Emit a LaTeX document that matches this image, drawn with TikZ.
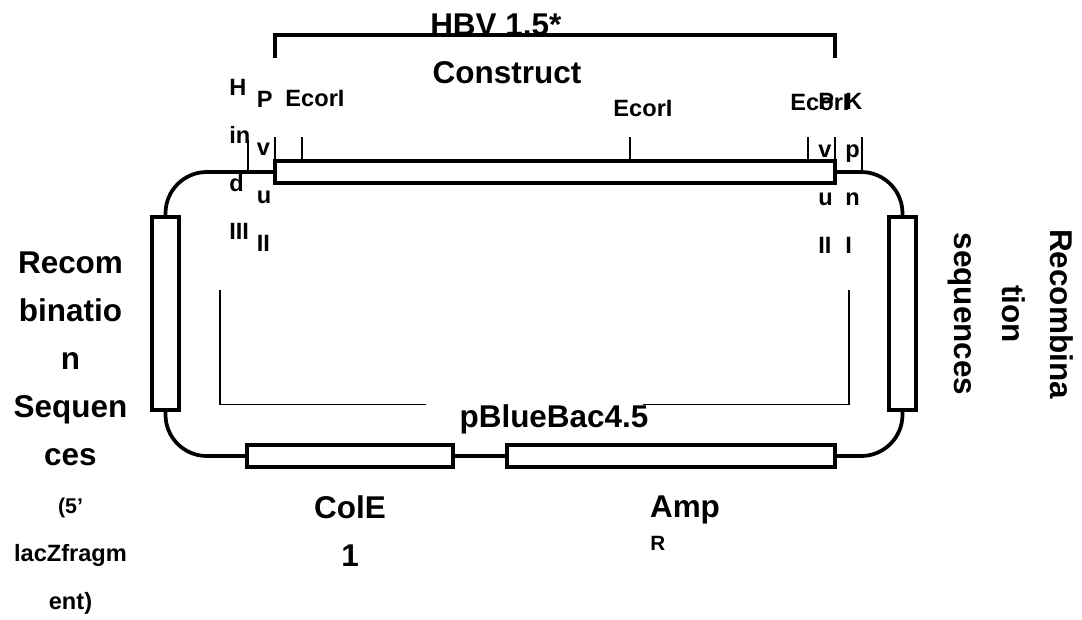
\documentclass[tikz,border=0pt]{standalone}
\usepackage{fontspec}
\setmainfont{Liberation Sans}
\usepackage{tikz}
\usetikzlibrary{positioning}

\begin{document}
\begin{tikzpicture}[
    x=0.75pt, y=-0.75pt,
    segbox/.style={rectangle, draw, line width=3pt, fill=white, inner sep=0pt},
    backbone/.style={line width=2.8pt, rounded corners=31pt},
    cutline/.style={line width=0.9pt},
    biglbl/.style={font=\fontsize{23.6}{36}\selectfont\bfseries, align=center, inner sep=0pt},
    sitelbl/.style={font=\fontsize{17.7}{36}\selectfont\bfseries, align=left, inner sep=0pt, anchor=west}
]
\useasboundingbox (0,0) rectangle (1082,619);

\begin{scope}
\clip (400,13) rectangle (600,36);
\node[biglbl, anchor=base west] (hbvlbl) at (430,35) {HBV 1.5*};
\end{scope}
\node[biglbl] (construct) at (507,73) {Construct};
\draw[line width=2.8pt] (275,58) |- (835,35) -- (835,58);

% boxes
\node[segbox, minimum width=420pt, minimum height=16.5pt] (hbvbox) at (555,172) {};
\node[segbox, minimum width=20pt, minimum height=145pt] (leftbox) at (165.5,313.5) {};
\node[segbox, minimum width=20pt, minimum height=145pt] (rightbox) at (902.5,313.5) {};
\node[segbox, minimum width=154.5pt, minimum height=16.5pt] (colbox) at (350,456) {};
\node[segbox, minimum width=246pt, minimum height=16.5pt] (ampbox) at (671,456) {};

\draw[backbone] (leftbox.north) |- (hbvbox.west);
\draw[backbone] (hbvbox.east) -| (rightbox.north);
\draw[backbone] (leftbox.south) |- (colbox.west);
\draw[backbone] (colbox.east) -- (ampbox.west);
\draw[backbone] (ampbox.east) -| (rightbox.south);

% restriction sites
\draw[cutline] (248,172) -- (248,140);
\foreach \x in {275,302,630,808,835}
    \draw[cutline] (\x,161) -- (\x,137);
\draw[cutline] (862,172) -- (862,137);

\draw[cutline] (220,290) |- (426,404.5);
\draw[cutline] (849,290) |- (643,404.5);

\node[sitelbl] (hind) at (229,159) {H\\in\\d\\III};
\node[sitelbl] (pvuleft) at (256.5,171) {P\\v\\u\\II};
\node[sitelbl, anchor=center] (ecoa) at (315,98) {EcorI};
\node[sitelbl, anchor=center] (ecob) at (643,108) {EcorI};
\node[sitelbl, anchor=center] (ecoc) at (820,102) {EcorI};
\node[sitelbl] (pvuright) at (818,173) {P\\v\\u\\II};
\node[sitelbl] (kpn) at (845,173) {K\\p\\n\\I};

\node[biglbl] (vector) at (554,419) {pBlueBac4.5};
\node[biglbl] (cole) at (350,531) {ColE\\1};
\node[biglbl] (amp) at (685,510) {Amp};
\node[sitelbl, font=\fontsize{15.5}{16}\selectfont\bfseries] (ampr) at (650,543) {R};

\node[biglbl] (leftseq) at (70.5,433) {Recom\\binatio\\n\\Sequen\\ces\\{\fontsize{16}{36}\selectfont (5’}\\{\fontsize{17.7}{36}\selectfont lacZfragm}\\{\fontsize{17.7}{36}\selectfont ent)}};
\node[biglbl, rotate=-90] (rightseq) at (1011,314) {Recombina\\tion\\sequences};
\end{tikzpicture}
\end{document}
